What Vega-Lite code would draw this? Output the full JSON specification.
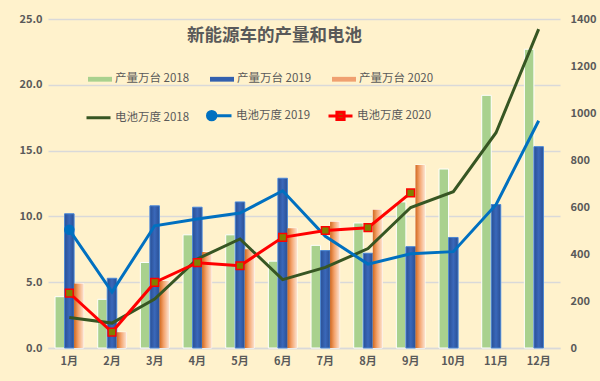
{
  "$schema": "https://vega.github.io/schema/vega-lite/v6.json",
  "width": 512,
  "height": 329,
  "autosize": {"type": "none"},
  "padding": {"left": 48, "top": 19, "right": 40, "bottom": 33},
  "background": "#FFF2CC",
  "config": {"view": {"stroke": null}, "font": "Noto Sans CJK SC"},
  "title": {
    "text": "新能源车的产量和电池",
    "anchor": "start",
    "dx": 168,
    "dy": 35,
    "fontSize": 17.5,
    "fontWeight": "bold",
    "color": "#595959",
    "font": "Noto Sans CJK SC"
  },
  "datasets": {
    "bars": [
      {"month": "1月", "series": "产量万台 2018", "value": 3.9},
      {"month": "2月", "series": "产量万台 2018", "value": 3.7},
      {"month": "3月", "series": "产量万台 2018", "value": 6.5},
      {"month": "4月", "series": "产量万台 2018", "value": 8.6},
      {"month": "5月", "series": "产量万台 2018", "value": 8.6},
      {"month": "6月", "series": "产量万台 2018", "value": 6.6},
      {"month": "7月", "series": "产量万台 2018", "value": 7.8},
      {"month": "8月", "series": "产量万台 2018", "value": 9.5},
      {"month": "9月", "series": "产量万台 2018", "value": 11.1},
      {"month": "10月", "series": "产量万台 2018", "value": 13.6},
      {"month": "11月", "series": "产量万台 2018", "value": 19.2},
      {"month": "12月", "series": "产量万台 2018", "value": 22.7},
      {"month": "1月", "series": "产量万台 2019", "value": 10.2},
      {"month": "2月", "series": "产量万台 2019", "value": 5.3},
      {"month": "3月", "series": "产量万台 2019", "value": 10.8},
      {"month": "4月", "series": "产量万台 2019", "value": 10.7},
      {"month": "5月", "series": "产量万台 2019", "value": 11.1},
      {"month": "6月", "series": "产量万台 2019", "value": 12.9},
      {"month": "7月", "series": "产量万台 2019", "value": 7.4},
      {"month": "8月", "series": "产量万台 2019", "value": 7.2},
      {"month": "9月", "series": "产量万台 2019", "value": 7.7},
      {"month": "10月", "series": "产量万台 2019", "value": 8.4},
      {"month": "11月", "series": "产量万台 2019", "value": 10.9},
      {"month": "12月", "series": "产量万台 2019", "value": 15.3},
      {"month": "1月", "series": "产量万台 2020", "value": 4.9},
      {"month": "2月", "series": "产量万台 2020", "value": 1.2},
      {"month": "3月", "series": "产量万台 2020", "value": 5.1},
      {"month": "4月", "series": "产量万台 2020", "value": 7.3},
      {"month": "5月", "series": "产量万台 2020", "value": 7.5},
      {"month": "6月", "series": "产量万台 2020", "value": 9.1},
      {"month": "7月", "series": "产量万台 2020", "value": 9.6},
      {"month": "8月", "series": "产量万台 2020", "value": 10.5},
      {"month": "9月", "series": "产量万台 2020", "value": 13.9}
    ],
    "lines": [
      {"month": "1月", "series": "电池万度 2018", "value": 130},
      {"month": "2月", "series": "电池万度 2018", "value": 106},
      {"month": "3月", "series": "电池万度 2018", "value": 208},
      {"month": "4月", "series": "电池万度 2018", "value": 379},
      {"month": "5月", "series": "电池万度 2018", "value": 464},
      {"month": "6月", "series": "电池万度 2018", "value": 291},
      {"month": "7月", "series": "电池万度 2018", "value": 343},
      {"month": "8月", "series": "电池万度 2018", "value": 423},
      {"month": "9月", "series": "电池万度 2018", "value": 598},
      {"month": "10月", "series": "电池万度 2018", "value": 665},
      {"month": "11月", "series": "电池万度 2018", "value": 916},
      {"month": "12月", "series": "电池万度 2018", "value": 1357},
      {"month": "1月", "series": "电池万度 2019", "value": 503},
      {"month": "2月", "series": "电池万度 2019", "value": 238},
      {"month": "3月", "series": "电池万度 2019", "value": 520},
      {"month": "4月", "series": "电池万度 2019", "value": 549},
      {"month": "5月", "series": "电池万度 2019", "value": 574},
      {"month": "6月", "series": "电池万度 2019", "value": 669},
      {"month": "7月", "series": "电池万度 2019", "value": 475},
      {"month": "8月", "series": "电池万度 2019", "value": 357},
      {"month": "9月", "series": "电池万度 2019", "value": 401},
      {"month": "10月", "series": "电池万度 2019", "value": 410},
      {"month": "11月", "series": "电池万度 2019", "value": 610},
      {"month": "12月", "series": "电池万度 2019", "value": 967},
      {"month": "1月", "series": "电池万度 2020", "value": 234},
      {"month": "2月", "series": "电池万度 2020", "value": 68},
      {"month": "3月", "series": "电池万度 2020", "value": 279},
      {"month": "4月", "series": "电池万度 2020", "value": 363},
      {"month": "5月", "series": "电池万度 2020", "value": 350},
      {"month": "6月", "series": "电池万度 2020", "value": 471},
      {"month": "7月", "series": "电池万度 2020", "value": 500},
      {"month": "8月", "series": "电池万度 2020", "value": 512},
      {"month": "9月", "series": "电池万度 2020", "value": 660}
    ]
  },
  "encoding": {
    "x": {
      "field": "month",
      "type": "nominal",
      "scale": {
        "domain": ["1月", "2月", "3月", "4月", "5月", "6月", "7月", "8月", "9月", "10月", "11月", "12月"],
        "paddingInner": 0.33,
        "paddingOuter": 0.165
      },
      "axis": {
        "title": null,
        "labelAngle": 0,
        "labelColor": "#595959",
        "labelFontSize": 11,
        "labelFontWeight": "bold",
        "labelPadding": 7,
        "ticks": false,
        "domainColor": "#D9D9D9",
        "domainWidth": 1.5
      }
    }
  },
  "layer": [
    {
      "data": {"name": "bars"},
      "layer": [
        {
          "mark": {"type": "bar", "stroke": "#FFFFFF", "strokeWidth": 1},
          "encoding": {
            "xOffset": {
              "field": "series",
              "type": "nominal",
              "scale": {"domain": ["产量万台 2018", "产量万台 2019", "产量万台 2020"], "paddingInner": 0, "paddingOuter": 0}
            },
            "y": {
              "field": "value",
              "type": "quantitative",
              "scale": {"domain": [0, 25], "nice": false},
              "axis": {
                "orient": "left",
                "title": null,
                "values": [0, 5, 10, 15, 20, 25],
                "format": ".1f",
                "labelColor": "#595959",
                "labelFontSize": 11,
                "labelFontWeight": "bold",
                "labelPadding": 6,
                "ticks": false,
                "domain": false,
                "grid": true,
                "gridColor": "#D9D9D9",
                "gridWidth": 1.5
              }
            },
            "fill": {
              "field": "series",
              "type": "nominal",
              "scale": {
                "domain": ["产量万台 2018", "产量万台 2019", "产量万台 2020"],
                "range": ["#A9D18E", "#3360AE", "#F0A070"]
              },
              "legend": {
                "orient": "none",
                "legendX": 40,
                "legendY": 48,
                "direction": "horizontal",
                "columns": 3,
                "gridAlign": "all",
                "title": null,
                "symbolType": "M-1,-0.2H1V0.2H-1Z",
                "symbolSize": 576,
                "symbolStrokeWidth": 0,
                "labelFontSize": 11.5,
                "labelColor": "#595959",
                "labelOffset": 3,
                "columnPadding": 20
              }
            }
          }
        },
        {
          "transform": [{"filter": "datum.series === '产量万台 2019'"}],
          "mark": {
            "type": "bar",
            "stroke": "#4A86D0",
            "strokeWidth": 1,
            "color": {
              "gradient": "linear",
              "x1": 0, "y1": 0, "x2": 1, "y2": 0,
              "stops": [
                {"offset": 0, "color": "#2A4F94"},
                {"offset": 0.5, "color": "#3A68BA"},
                {"offset": 1, "color": "#2A4F94"}
              ]
            }
          },
          "encoding": {
            "xOffset": {"field": "series", "type": "nominal"},
            "y": {"field": "value", "type": "quantitative"}
          }
        },
        {
          "transform": [{"filter": "datum.series === '产量万台 2020'"}],
          "mark": {
            "type": "bar",
            "color": {
              "gradient": "linear",
              "x1": 0, "y1": 0, "x2": 1, "y2": 0,
              "stops": [
                {"offset": 0, "color": "#D2691E"},
                {"offset": 0.45, "color": "#F4A46E"},
                {"offset": 1, "color": "#FCE2CF"}
              ]
            }
          },
          "encoding": {
            "xOffset": {"field": "series", "type": "nominal"},
            "y": {"field": "value", "type": "quantitative"}
          }
        }
      ]
    },
    {
      "data": {"name": "lines"},
      "layer": [
        {
          "mark": {"type": "line", "strokeWidth": 3},
          "encoding": {
            "y": {
              "field": "value",
              "type": "quantitative",
              "scale": {"domain": [0, 1400], "nice": false},
              "axis": {
                "orient": "right",
                "title": null,
                "values": [0, 200, 400, 600, 800, 1000, 1200, 1400],
                "format": "d",
                "labelColor": "#595959",
                "labelFontSize": 11,
                "labelFontWeight": "bold",
                "labelPadding": 10,
                "ticks": false,
                "domain": false,
                "grid": false
              }
            },
            "stroke": {
              "field": "series",
              "type": "nominal",
              "scale": {
                "domain": ["电池万度 2018", "电池万度 2019", "电池万度 2020"],
                "range": ["#375623", "#0070C0", "#FF0000"]
              },
              "legend": {
                "orient": "none",
                "legendX": 37,
                "legendY": 83,
                "direction": "horizontal",
                "columns": 3,
                "gridAlign": "all",
                "title": null,
                "symbolType": "M-1,0H1",
                "symbolSize": 576,
                "symbolStrokeWidth": 3,
                "labelFontSize": 11.5,
                "labelColor": "#595959",
                "labelOffset": 3,
                "columnPadding": 11,
                "encode": {
                  "symbols": {
                    "update": {
                      "shape": {"signal": "datum.value === '电池万度 2019' ? 'M-0.3,0H1M-1,0A0.35,0.35 0 1,1 -0.3,0A0.35,0.35 0 1,1 -1,0Z' : datum.value === '电池万度 2020' ? 'M-1,0H1M-0.3,-0.3H0.3V0.3H-0.3Z' : 'M-1,0H1'"},
                      "fill": {"signal": "datum.value === '电池万度 2019' ? '#0070C0' : datum.value === '电池万度 2020' ? '#808000' : 'transparent'"}
                    }
                  }
                }
              }
            }
          }
        },
        {
          "transform": [{"filter": "datum.series === '电池万度 2019' && datum.month === '1月'"}],
          "mark": {"type": "point", "shape": "circle", "filled": true, "size": 110, "color": "#0070C0", "opacity": 1},
          "encoding": {"y": {"field": "value", "type": "quantitative"}}
        },
        {
          "transform": [{"filter": "datum.series === '电池万度 2020'"}],
          "mark": {"type": "point", "shape": "square", "filled": true, "size": 60, "fill": "#808000", "stroke": "#FF0000", "strokeWidth": 1.5, "opacity": 1},
          "encoding": {"y": {"field": "value", "type": "quantitative"}}
        }
      ]
    }
  ],
  "resolve": {"scale": {"y": "independent"}}
}
